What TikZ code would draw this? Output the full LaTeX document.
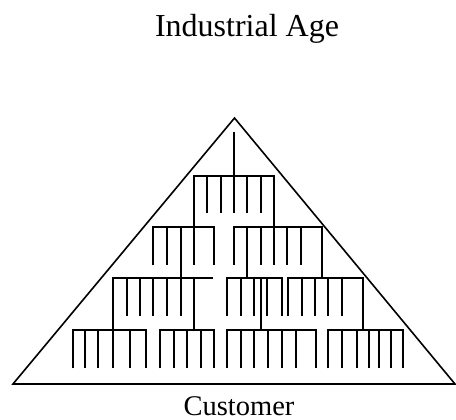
\documentclass[tikz,border=0pt]{standalone}
\usepackage{fontspec}
\setmainfont{Liberation Serif}

\begin{document}
\begin{tikzpicture}[x=1pt,y=-1pt,
  tree/.style={line width=2.2pt},
  edge/.style={line width=1.6pt, line join=miter}]
\useasboundingbox (0,0) rectangle (456,420);
\path (247,36.7) node[anchor=base, font=\fontsize{32}{38}\selectfont](title) {Industrial Age}
(239,415) node[anchor=base, font=\fontsize{28.5}{34}\selectfont](customer) {Customer};
% pyramid
\coordinate (top) at (234.5,118);
\coordinate (left) at (13,384);
\coordinate (right) at (455,384);
\draw[edge] (top) -- (left) -- (right) -- cycle;
% first level
\draw[tree] (234,132) -- (234,213);
\draw[tree] (194,227.3) |- (274,176) -- (274,227.3)
 (207.3,176) -- (207.3,213) (220.7,176) -- (220.7,213)
 (247.3,176) -- (247.3,213) (260.7,176) -- (260.7,213);
% second level
\draw[tree] (152.7,265) |- (214,227.3) -- (214,265)
 (166.7,227.3) -- (166.7,265) (180.7,227.3) -- (180.7,277.7) (194,227.3) -- (194,265);
\draw[tree] (234,265) |- (321.7,227.3) -- (321.7,277.7)
 (247.3,227.3) -- (247.3,277.7) (260.7,227.3) -- (260.7,265) (274,227.3) -- (274,265)
 (287.3,227.3) -- (287.3,265) (300.7,227.3) -- (300.7,265);
% third level
\draw[tree] (113.3,330) |- (213.3,277.7)
 (126.7,277.7) -- (126.7,315.7) (140,277.7) -- (140,315.7) (153.3,277.7) -- (153.3,315.7)
 (166.7,277.7) -- (166.7,315.7) (180.7,277.7) -- (180.7,315.7) (194.3,277.7) -- (194.3,330);
\draw[tree] (227.3,315.7) |- (281.7,277.7) -- (281.7,315.7)
 (240.7,277.7) -- (240.7,315.7) (254,277.7) -- (254,315.7)
 (261,277.7) -- (261,330) (267.3,277.7) -- (267.3,315.7);
\draw[tree] (288.3,315.7) |- (362.7,277.7) -- (362.7,330)
 (301.7,277.7) -- (301.7,315.7) (315,277.7) -- (315,315.7)
 (328.3,277.7) -- (328.3,315.7) (341.7,277.7) -- (341.7,315.7);
% fourth level
\draw[tree] (72.7,368.3) |- (146,330) -- (146,368.3)
 (85,330) -- (85,368.3) (98.3,330) -- (98.3,368.3)
 (113.3,330) -- (113.3,368.3) (130,330) -- (130,368.3);
\draw[tree] (160,368.3) |- (214,330) -- (214,368.3)
 (174,330) -- (174,368.3) (187.3,330) -- (187.3,368.3) (200.7,330) -- (200.7,368.3);
\draw[tree] (227.3,368.3) |- (315.7,330) -- (315.7,368.3)
 (240.7,330) -- (240.7,368.3) (254,330) -- (254,368.3) (268.3,330) -- (268.3,368.3)
 (281.7,330) -- (281.7,368.3) (296,330) -- (296,368.3);
\draw[tree] (328.3,368.3) |- (402.7,330) -- (402.7,368.3)
 (342.3,330) -- (342.3,368.3) (356.7,330) -- (356.7,368.3) (369.3,330) -- (369.3,368.3)
 (379.3,330) -- (379.3,368.3) (390.7,330) -- (390.7,368.3);
\end{tikzpicture}
\end{document}
